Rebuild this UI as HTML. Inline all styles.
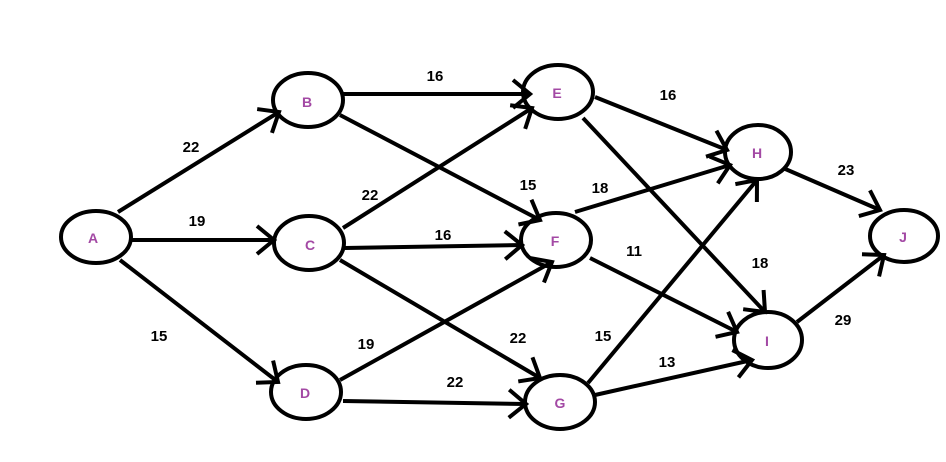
<!DOCTYPE html>
<html><head><meta charset="utf-8"><style>
html,body{margin:0;padding:0;background:#fff}
svg{display:block}
.l{font:bold 15px "Liberation Sans",sans-serif;fill:#000;text-anchor:middle}
.n{font:bold 14px "Liberation Sans",sans-serif;fill:#a349a4;text-anchor:middle}
</style></head><body>
<svg width="946" height="462" viewBox="0 0 946 462">
<defs>
<marker id="a" markerUnits="userSpaceOnUse" markerWidth="50" markerHeight="50" refX="25" refY="25" orient="auto" overflow="visible">
<path d="M8,11 L25,25 L8,39" fill="none" stroke="#000" stroke-width="4"/>
</marker>
</defs>
<g stroke="#000" stroke-width="4" fill="#fff">
<ellipse cx="96" cy="237" rx="35" ry="26"/>
<ellipse cx="308" cy="100" rx="35" ry="27"/>
<ellipse cx="309" cy="243" rx="35" ry="27"/>
<ellipse cx="306" cy="392" rx="35" ry="27"/>
<ellipse cx="558" cy="92" rx="35" ry="27"/>
<ellipse cx="556" cy="240" rx="35" ry="27"/>
<ellipse cx="560" cy="402" rx="35" ry="27"/>
<ellipse cx="758" cy="152" rx="33" ry="27"/>
<ellipse cx="768" cy="340" rx="34" ry="28"/>
<ellipse cx="904" cy="236" rx="34" ry="26"/>
</g>
<g stroke="#000" stroke-width="4" fill="none" marker-end="url(#a)">
<line x1="118" y1="212" x2="279" y2="112"/>
<line x1="132" y1="240" x2="274" y2="240"/>
<line x1="120" y1="260" x2="278" y2="382"/>
<line x1="343" y1="94" x2="530" y2="94"/>
<line x1="340" y1="115" x2="540" y2="220"/>
<line x1="343" y1="228" x2="532" y2="108"/>
<line x1="345" y1="248" x2="522" y2="245"/>
<line x1="340" y1="260" x2="540" y2="378"/>
<line x1="340" y1="380" x2="552" y2="262"/>
<line x1="343" y1="401" x2="526" y2="404"/>
<line x1="595" y1="97" x2="727" y2="150"/>
<line x1="583" y1="118" x2="765" y2="312"/>
<line x1="575" y1="212" x2="730" y2="165"/>
<line x1="590" y1="258" x2="737" y2="332"/>
<line x1="588" y1="383" x2="757" y2="180"/>
<line x1="595" y1="395" x2="752" y2="360"/>
<line x1="783" y1="168" x2="880" y2="210"/>
<line x1="797" y1="322" x2="884" y2="255"/>
</g>
<g class="n">
<text x="93" y="243">A</text><text x="307" y="107">B</text><text x="310" y="250">C</text>
<text x="305" y="398">D</text><text x="557" y="98">E</text><text x="555" y="246">F</text>
<text x="560" y="408">G</text><text x="757" y="158">H</text><text x="767" y="346">I</text>
<text x="903" y="242">J</text>
</g>
<g class="l">
<text x="191" y="152">22</text><text x="197" y="226">19</text><text x="159" y="341">15</text>
<text x="435" y="81">16</text><text x="370" y="200">22</text><text x="528" y="190">15</text>
<text x="443" y="240">16</text><text x="518" y="343">22</text><text x="366" y="349">19</text>
<text x="455" y="387">22</text><text x="668" y="100">16</text><text x="600" y="193">18</text>
<text x="634" y="256">11</text><text x="760" y="268">18</text><text x="603" y="341">15</text>
<text x="667" y="367">13</text><text x="846" y="175">23</text><text x="843" y="325">29</text>
</g>
</svg>
</body></html>
